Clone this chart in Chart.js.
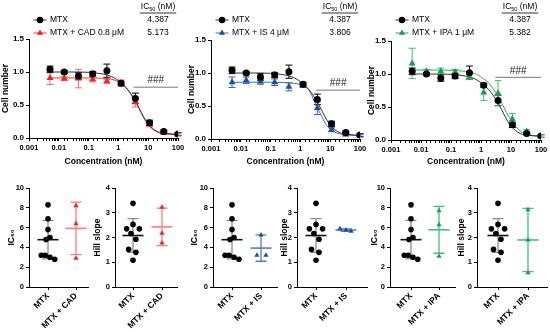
<!DOCTYPE html>
<html lang="en">
<head>
<meta charset="UTF-8" />
<title>MTX dose response</title>
<script src="https://cdn.jsdelivr.net/npm/chart.js"></script>
<style>
  html, body { margin: 0; padding: 0; background: #fff; }
  body { width: 550px; height: 332px; position: relative; overflow: hidden; }
  canvas { position: absolute; }
</style>
</head>
<body>
<script>
  // ---- dose response (top row) ----
  const concentrations = [0.00508, 0.0152, 0.0457, 0.137, 0.412, 1.23, 3.70, 11.1, 33.3, 100];
  const xTickLabels = ['0.001', '0.01', '0.1', '1', '10', '100'];

  const mtxMean = [1.04, 1.00, 0.94, 0.97, 1.02, 0.83, 0.60, 0.23, 0.10, 0.06];
  const mtxErr  = [0.05, 0.02, 0.05, 0.04, 0.10, 0.03, 0.08, 0.04, 0.02, 0.02];
  const cadMean = [0.91, 0.90, 0.90, 0.89, 0.86, 0.83, 0.55, 0.21, 0.08, 0.05];
  const cadErr  = [0.10, 0.03, 0.14, 0.04, 0.03, 0.05, 0.08, 0.04, 0.02, 0.02];
  const isMean  = [0.86, 0.89, 0.87, 0.86, 0.79, 0.81, 0.47, 0.14, 0.07, 0.05];
  const isErr   = [0.08, 0.05, 0.04, 0.05, 0.06, 0.03, 0.10, 0.03, 0.02, 0.02];
  const ipaMean = [1.16, 1.04, 1.04, 1.03, 0.96, 0.72, 0.71, 0.32, 0.13, 0.06];
  const ipaErr  = [0.23, 0.03, 0.05, 0.04, 0.04, 0.12, 0.19, 0.08, 0.03, 0.02];

  // fitted curves
  const fitX   = [0.005, 0.03, 0.1, 0.3, 0.6, 1.2, 2, 3.5, 5, 7, 10, 20, 40, 100];
  const mtxFit = [1.00, 1.00, 0.995, 0.97, 0.93, 0.84, 0.74, 0.58, 0.45, 0.32, 0.21, 0.10, 0.07, 0.055];
  const cadFit = [0.91, 0.91, 0.91, 0.905, 0.89, 0.83, 0.74, 0.57, 0.44, 0.31, 0.20, 0.09, 0.06, 0.05];
  const isFit  = [0.86, 0.86, 0.86, 0.855, 0.845, 0.81, 0.73, 0.49, 0.36, 0.23, 0.15, 0.08, 0.06, 0.05];
  const ipaFit = [1.06, 1.06, 1.055, 1.04, 1.01, 0.93, 0.84, 0.67, 0.55, 0.42, 0.30, 0.14, 0.08, 0.06];

  const treatLabels = ['MTX + CAD 0.8 μM', 'MTX + IS 4 μM', 'MTX + IPA 1 μM'];
  const mtxIc50Text = '4.387';
  const treatIc50Text = ['5.173', '3.806', '5.382'];
  const hashStart = [3.2, 3.4, 3.0];
  const hashEnd = [100, 100, 100];
  const hashLevel = [0.77, 0.74, 0.95];

  // ---- IC50 / Hill slope (bottom row) ----
  const groupNames = [['MTX', 'MTX + CAD'], ['MTX', 'MTX + IS'], ['MTX', 'MTX + IPA']];
  const mtxIc50 = [8.3, 6.9, 5.8, 4.8, 5.0, 3.2, 3.2, 3.0, 2.8];
  const mtxIc50Jit = [0, 0, 0, -0.07, 0.07, -0.24, -0.1, 0.07, 0.24];
  const mtxHill = [3.38, 2.53, 2.35, 2.35, 2.16, 1.93, 1.52, 1.40, 1.08];
  const mtxHillJit = [0, 0, -0.22, 0.22, -0.07, 0.1, -0.15, 0.1, 0];
  const cadIc50 = [8.2, 6.4, 2.9];    const cadIc50Jit = [0, 0, 0];
  const cadHill = [3.22, 2.17, 1.78]; const cadHillJit = [0, 0, 0];
  const isIc50 = [5.25, 3.2, 3.2];    const isIc50Jit = [0, -0.14, 0.17];
  const isHill = [2.35, 2.3, 2.25];   const isHillJit = [-0.2, 0, 0.17];
  const ipaIc50 = [7.7, 6.3, 3.1];    const ipaIc50Jit = [0, 0, 0];
  const ipaHill = [3.12, 1.9, 0.58];  const ipaHillJit = [0, 0, 0];
  // mean, SD
  const mtxIc50Stats = [4.78, 1.94];
  const mtxHillStats = [2.08, 0.68];
  const cadIc50Stats = [5.92, 2.65];
  const cadHillStats = [2.43, 0.76];
  const isIc50Stats = [3.93, 1.33];
  const isHillStats = [2.30, 0.05];
  const ipaIc50Stats = [5.78, 2.37];
  const ipaHillStats = [1.90, 1.28];

  const FONT = "'Liberation Sans', Arial, sans-serif";
  Chart.defaults.font.family = FONT;
  Chart.defaults.color = '#000';

  const colors = [
    { point: '#ff1f1f', curve: '#e8383d', err: '#f26b6b', stat: '#ff7a7a' },
    { point: '#1d4f9f', curve: '#3b6fc2', err: '#3466b8', stat: '#4f80cf' },
    { point: '#14a04c', curve: '#33a865', err: '#45b873', stat: '#45bd7a' }
  ];

  function addCanvas(x, y, w, h) {
    const c = document.createElement('canvas');
    c.width = w; c.height = h;
    c.style.left = x + 'px'; c.style.top = y + 'px';
    c.style.width = w + 'px'; c.style.height = h + 'px';
    document.body.appendChild(c);
    return c;
  }

  const pts = (xs, ys) => xs.map((x, i) => ({ x, y: ys[i] }));

  // error bars from dataset.errors, drawn under everything
  const errorBars = {
    id: 'errorBars',
    beforeDatasetsDraw(chart) {
      const ctx = chart.ctx, ys = chart.scales.y;
      chart.data.datasets.forEach((ds, i) => {
        if (!ds.errors) return;
        const meta = chart.getDatasetMeta(i);
        ctx.save();
        ctx.strokeStyle = ds.errorColor;
        ctx.lineWidth = 1;
        meta.data.forEach((el, j) => {
          const v = ds.data[j].y, e = ds.errors[j];
          const t = ys.getPixelForValue(v + e), b = ys.getPixelForValue(v - e);
          ctx.beginPath();
          ctx.moveTo(el.x, t); ctx.lineTo(el.x, b);
          ctx.moveTo(el.x - 3.5, t); ctx.lineTo(el.x + 3.5, t);
          ctx.moveTo(el.x - 3.5, b); ctx.lineTo(el.x + 3.5, b);
          ctx.stroke();
        });
        ctx.restore();
      });
    }
  };

  // mean line + SD whiskers for grouped scatter
  const groupStats = {
    id: 'groupStats',
    beforeDatasetsDraw(chart) {
      const ctx = chart.ctx, xs = chart.scales.x, ys = chart.scales.y;
      chart.data.datasets.forEach(ds => {
        const [m, sd] = ds.stats;
        const cx = xs.getPixelForValue(ds.group);
        const ym = ys.getPixelForValue(m), yt = ys.getPixelForValue(m + sd), yb = ys.getPixelForValue(m - sd);
        ctx.save();
        ctx.strokeStyle = ds.barColor;
        ctx.lineWidth = 1.3;
        ctx.beginPath();
        ctx.moveTo(cx, yt); ctx.lineTo(cx, yb);
        ctx.moveTo(cx - 5.5, yt); ctx.lineTo(cx + 5.5, yt);
        ctx.moveTo(cx - 5.5, yb); ctx.lineTo(cx + 5.5, yb);
        ctx.stroke();
        ctx.strokeStyle = ds.meanColor;
        ctx.lineWidth = 1.6;
        ctx.beginPath();
        ctx.moveTo(cx - 10.5, ym); ctx.lineTo(cx + 10.5, ym);
        ctx.stroke();
        ctx.restore();
      });
    }
  };

  const axisGrid = { display: true, drawOnChartArea: false, drawTicks: true, tickLength: 3, color: '#000', lineWidth: 1 };
  const axisBorder = { display: true, color: '#000', width: 1 };

  // ---- top row ----
  const topBoxes = [
    { l: 29, r: 178, t: 39, b: 138, tx: 6 },
    { l: 211, r: 360, t: 40, b: 139, tx: 192 },
    { l: 391, r: 541, t: 41, b: 140, tx: 372 }
  ];
  const treatMeans = [cadMean, isMean, ipaMean];
  const treatErrs = [cadErr, isErr, ipaErr];
  const treatFits = [cadFit, isFit, ipaFit];

  function doseChart(k) {
    const p = topBoxes[k], col = colors[k];
    const cLeft = p.tx - 5;
    const cw = p.r - cLeft + 14, ch = 172;
    const canvas = addCanvas(cLeft, 0, cw, ch);

    const legendPlugin = {
      id: 'doseLegend',
      afterDraw(chart) {
        const ctx = chart.ctx, a = chart.chartArea;
        const mx = a.left + 11, lx = a.left + 21, vx = a.left + 129;
        const rows = [
          { y: 20, label: 'MTX', value: mtxIc50Text, line: '#333', fill: '#000', style: 'circle', r: 3.2 },
          { y: 33, label: treatLabels[k], value: treatIc50Text[k], line: col.curve, fill: col.point, style: 'triangle', r: 3.6 }
        ];
        ctx.save();
        rows.forEach(row => {
          ctx.strokeStyle = row.line; ctx.lineWidth = 1;
          ctx.beginPath(); ctx.moveTo(mx - 6.5, row.y); ctx.lineTo(mx + 6.5, row.y); ctx.stroke();
          ctx.fillStyle = row.fill;
          Chart.helpers.drawPoint(ctx, { pointStyle: row.style, radius: row.r, rotation: 0, borderWidth: 0 }, mx, row.y);
          ctx.fillStyle = '#000';
          ctx.font = '8.5px ' + FONT;
          ctx.textBaseline = 'middle';
          ctx.textAlign = 'left';
          ctx.fillText(row.label, lx, row.y);
          ctx.textAlign = 'center';
          ctx.fillText(row.value, vx, row.y);
        });
        // IC50 (nM) header with subscript
        const big = '8.5px ' + FONT, small = '5.5px ' + FONT;
        ctx.font = big; const w1 = ctx.measureText('IC').width, w3 = ctx.measureText(' (nM)').width;
        ctx.font = small; const w2 = ctx.measureText('50').width;
        const total = w1 + w2 + w3;
        let hx = vx - total / 2;
        const hy = 7;
        ctx.textAlign = 'left';
        ctx.font = big; ctx.fillText('IC', hx, hy);
        ctx.font = small; ctx.fillText('50', hx + w1, hy + 2.5);
        ctx.font = big; ctx.fillText(' (nM)', hx + w1 + w2, hy);
        ctx.strokeStyle = '#000'; ctx.lineWidth = 0.8;
        ctx.beginPath(); ctx.moveTo(hx - 1, 13); ctx.lineTo(hx + total + 1, 13); ctx.stroke();
        // ### over the significance line
        const hm = chart.getDatasetMeta(4).data;
        ctx.fillStyle = '#222';
        ctx.font = '10px ' + FONT;
        ctx.textAlign = 'center';
        ctx.textBaseline = 'bottom';
        ctx.fillText('###', (hm[0].x + hm[1].x) / 2, hm[0].y - 1.5);
        ctx.restore();
      }
    };

    new Chart(canvas, {
      type: 'scatter',
      data: {
        datasets: [
          { label: 'MTX', data: pts(concentrations, mtxMean), errors: mtxErr, errorColor: '#000',
            pointStyle: 'circle', pointRadius: 3.5, backgroundColor: '#000', borderWidth: 0 },
          { label: treatLabels[k], data: pts(concentrations, treatMeans[k]), errors: treatErrs[k], errorColor: col.err,
            pointStyle: 'triangle', pointRadius: 4, backgroundColor: col.point, borderWidth: 0 },
          { type: 'line', data: pts(fitX, mtxFit), borderColor: '#333', borderWidth: 1, pointRadius: 0,
            cubicInterpolationMode: 'monotone', fill: false },
          { type: 'line', data: pts(fitX, treatFits[k]), borderColor: col.curve, borderWidth: 1, pointRadius: 0,
            cubicInterpolationMode: 'monotone', fill: false },
          { type: 'line', data: [{ x: hashStart[k], y: hashLevel[k] }, { x: hashEnd[k], y: hashLevel[k] }],
            borderColor: '#777', borderWidth: 1, pointRadius: 0, fill: false }
        ]
      },
      options: {
        responsive: false,
        animation: false,
        devicePixelRatio: 1,
        layout: { autoPadding: false, padding: { left: 0, top: p.t, right: cw - (p.r - cLeft), bottom: ch - 167 } },
        plugins: { legend: { display: false }, tooltip: { enabled: false } },
        scales: {
          x: {
            type: 'logarithmic', min: 0.001, max: 100,
            afterFit: s => { s.height = 167 - p.b; },
            grid: axisGrid, border: axisBorder,
            ticks: {
              autoSkip: false, maxRotation: 0, minRotation: 0, padding: 2,
              font: { size: 7.5, weight: 'bold' },
              callback: v => {
                const e = Math.log10(v);
                return Math.abs(e - Math.round(e)) < 1e-6 ? xTickLabels[Math.round(e) + 3] : '';
              }
            },
            title: { display: true, text: 'Concentration (nM)', font: { size: 8.5, weight: 'bold' }, padding: 0 }
          },
          y: {
            min: 0, max: 1.5,
            afterFit: s => { s.width = p.l - cLeft; },
            grid: axisGrid, border: axisBorder,
            ticks: { stepSize: 0.5, padding: 2, font: { size: 8, weight: 'bold' }, callback: v => v.toFixed(1) },
            title: { display: true, text: 'Cell number', font: { size: 8.5, weight: 'bold' }, padding: 0 }
          }
        }
      },
      plugins: [errorBars, legendPlugin]
    });
  }

  // ---- bottom row ----
  const bottomBoxes = [
    { l: 29, r: 88, c1: 48, c2: 76, tx: 12 },
    { l: 115, r: 177, c1: 133, c2: 162, tx: 98 },
    { l: 213, r: 277, c1: 232, c2: 261, tx: 195 },
    { l: 297, r: 367, c1: 316, c2: 346, tx: 285 },
    { l: 390, r: 455, c1: 411, c2: 439, tx: 375 },
    { l: 477, r: 547, c1: 498, c2: 528, tx: 462 }
  ];
  const bottomTop = 188, bottomBase = 287;
  const treatIc50s = [cadIc50, isIc50, ipaIc50];
  const treatIc50Jits = [cadIc50Jit, isIc50Jit, ipaIc50Jit];
  const treatHills = [cadHill, isHill, ipaHill];
  const treatHillJits = [cadHillJit, isHillJit, ipaHillJit];
  const treatIc50Stats = [cadIc50Stats, isIc50Stats, ipaIc50Stats];
  const treatHillStats = [cadHillStats, isHillStats, ipaHillStats];

  function groupChart(k) {
    const t = Math.floor(k / 2), isHillPanel = k % 2 === 1;
    const p = bottomBoxes[k], col = colors[t];
    const cLeft = p.tx - 5, cTop = 176;
    const cw = p.r - cLeft + 8, ch = 332 - cTop;
    const canvas = addCanvas(cLeft, cTop, cw, ch);
    const unit = p.c2 - p.c1;
    const xMin = 1 - (p.c1 - p.l) / unit, xMax = 2 + (p.r - p.c2) / unit;

    const mtxVals = isHillPanel ? mtxHill : mtxIc50;
    const mtxJit = isHillPanel ? mtxHillJit : mtxIc50Jit;
    const trVals = isHillPanel ? treatHills[t] : treatIc50s[t];
    const trJit = isHillPanel ? treatHillJits[t] : treatIc50Jits[t];

    new Chart(canvas, {
      type: 'scatter',
      data: {
        datasets: [
          { data: mtxVals.map((v, i) => ({ x: 1 + mtxJit[i], y: v })), group: 1,
            stats: isHillPanel ? mtxHillStats : mtxIc50Stats, meanColor: '#111', barColor: '#8c8c8c',
            pointStyle: 'circle', pointRadius: 2.8, backgroundColor: '#000', borderWidth: 0 },
          { data: trVals.map((v, i) => ({ x: 2 + trJit[i], y: v })), group: 2,
            stats: isHillPanel ? treatHillStats[t] : treatIc50Stats[t], meanColor: col.stat, barColor: col.stat,
            pointStyle: 'triangle', pointRadius: 3, backgroundColor: col.point, borderWidth: 0 }
        ]
      },
      options: {
        responsive: false,
        animation: false,
        devicePixelRatio: 1,
        layout: { autoPadding: false, padding: { left: 0, top: bottomTop - cTop, right: cw - (p.r - cLeft), bottom: 0 } },
        plugins: { legend: { display: false }, tooltip: { enabled: false } },
        scales: {
          x: {
            type: 'linear', min: xMin, max: xMax,
            afterFit: s => { s.height = 332 - bottomBase; },
            afterBuildTicks: s => { s.ticks = [{ value: 1 }, { value: 2 }]; },
            grid: axisGrid, border: axisBorder,
            ticks: {
              autoSkip: false, minRotation: 45, maxRotation: 45, padding: 1,
              font: { size: 8.5, weight: 'bold' },
              callback: v => groupNames[t][Math.round(v) - 1]
            }
          },
          y: {
            min: 0, max: isHillPanel ? 4 : 10,
            afterFit: s => { s.width = p.l - cLeft; },
            grid: axisGrid, border: axisBorder,
            ticks: { stepSize: isHillPanel ? 1 : 2, padding: 2, font: { size: 7.5, weight: 'bold' } },
            title: { display: true, text: isHillPanel ? 'Hill slope' : 'IC₅₀', font: { size: 8.5, weight: 'bold' }, padding: 0 }
          }
        }
      },
      plugins: [groupStats]
    });
  }

  [0, 1, 2].forEach(doseChart);
  [0, 1, 2, 3, 4, 5].forEach(groupChart);
</script>
</body>
</html>
